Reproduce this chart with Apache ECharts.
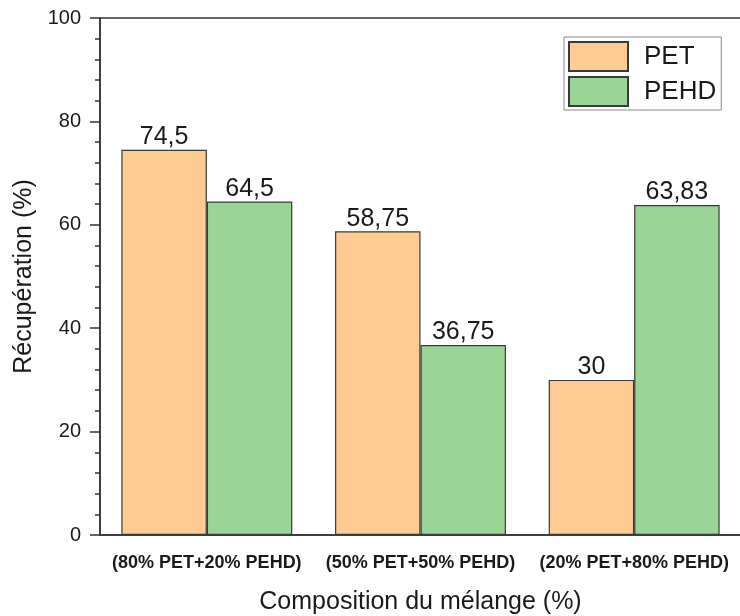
<!DOCTYPE html>
<html>
<head>
<meta charset="utf-8">
<script src="https://cdn.jsdelivr.net/npm/echarts@6/dist/echarts.min.js"></script>
<style>html,body{margin:0;padding:0;background:#fff}#c{width:740px;height:616px}</style>
</head>
<body>
<div id="c"></div>
<script>
const categories = ['(80% PET+20% PEHD)', '(50% PET+50% PEHD)', '(20% PET+80% PEHD)'];
const petValues = [74.5, 58.75, 30];
const pehdValues = [64.5, 36.75, 63.83];
const seriesNames = ['PET', 'PEHD'];
const yTicks = [0, 20, 40, 60, 80, 100];

const FONT = '"Liberation Sans", Arial, sans-serif';
const TXT = '#1a1a1a';
const fmt = p => String(p.value).replace('.', ',');
const chart = echarts.init(document.getElementById('c'));
chart.setOption({
  animation: false,
  textStyle: { fontFamily: FONT },
  grid: { left: 100, right: -1, top: 18, bottom: 81, outerBoundsMode: 'none', containLabel: false,
          show: true, borderColor: '#333', borderWidth: 1.5, backgroundColor: 'transparent' },
  legend: {
    orient: 'vertical', left: 564, top: 37,
    padding: [4, 5, 3, 4], itemGap: 4, itemWidth: 59, itemHeight: 29,
    icon: 'rect',
    borderColor: '#888', borderWidth: 1,
    textStyle: { fontSize: 26, color: TXT, fontFamily: FONT, padding: [0, 0, 0, 11] },
    data: seriesNames
  },
  xAxis: {
    type: 'category', data: categories,
    name: 'Composition du mélange (%)', nameLocation: 'middle', nameGap: 55,
    nameTextStyle: { fontSize: 25, color: TXT, fontFamily: FONT },
    axisLine: { lineStyle: { color: '#333', width: 1.5 } },
    axisTick: { alignWithLabel: true, length: 11, lineStyle: { color: '#333', width: 1.5 } },
    axisLabel: { fontSize: 18, fontWeight: 'bold', color: TXT, margin: 19, fontFamily: FONT, interval: 0 }
  },
  yAxis: {
    type: 'value', min: yTicks[0], max: yTicks[yTicks.length - 1], interval: 20,
    name: 'Récupération (%)', nameLocation: 'middle', nameGap: 60,
    nameTextStyle: { fontSize: 25, color: TXT, fontFamily: FONT },
    axisLine: { show: true, lineStyle: { color: '#333', width: 1.5 } },
    axisTick: { show: true, length: 10, lineStyle: { color: '#333', width: 1.5 } },
    minorTick: { show: true, splitNumber: 5, length: 5, lineStyle: { color: '#333', width: 1.5 } },
    splitLine: { show: false },
    axisLabel: { fontSize: 20, color: TXT, margin: 19, fontFamily: FONT }
  },
  series: [
    {
      name: seriesNames[0], type: 'bar', data: petValues, barGap: '0%', barCategoryGap: '20%',
      itemStyle: { color: '#FECC92', borderColor: '#3a3a3a', borderWidth: 1.2 },
      label: { show: true, position: 'top', distance: 0, fontSize: 25, color: TXT, fontFamily: FONT, formatter: fmt }
    },
    {
      name: seriesNames[1], type: 'bar', data: pehdValues, barGap: '0%', barCategoryGap: '20%',
      itemStyle: { color: '#9AD598', borderColor: '#3a3a3a', borderWidth: 1.2 },
      label: { show: true, position: 'top', distance: 0, fontSize: 25, color: TXT, fontFamily: FONT, formatter: fmt }
    }
  ]
});
</script>
</body>
</html>
